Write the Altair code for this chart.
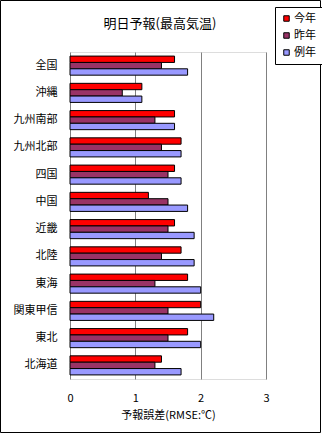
import altair as alt
import pandas as pd

regions = ["全国", "沖縄", "九州南部", "九州北部", "四国", "中国", "近畿", "北陸", "東海", "関東甲信", "東北", "北海道"]
series = ["今年", "昨年", "例年"]
this_year = [1.6, 1.1, 1.6, 1.7, 1.6, 1.2, 1.6, 1.7, 1.8, 2.0, 1.8, 1.4]
last_year = [1.4, 0.8, 1.3, 1.4, 1.5, 1.5, 1.5, 1.4, 1.3, 1.5, 1.5, 1.3]
normal = [1.8, 1.1, 1.6, 1.7, 1.7, 1.8, 1.9, 1.9, 2.0, 2.2, 2.0, 1.7]
colors = ["#FF0000", "#993366", "#9999FF"]
title_text = ["明日予報(最高気温)"]

rows = []
for name, vals in zip(series, [this_year, last_year, normal]):
    for r, v in zip(regions, vals):
        rows.append({"region": r, "series": name, "value": v})
df = pd.DataFrame(rows)

FONT = "Noto Sans CJK JP"

bars = alt.Chart(df).mark_bar(stroke="black", strokeWidth=1).encode(
    y=alt.Y("region:N", sort=regions,
            scale=alt.Scale(paddingInner=0.3, paddingOuter=0.15),
            axis=alt.Axis(title=None, ticks=False, domain=False, labelPadding=13,
                          labelFontSize=11, labelColor="black", labelFont=FONT)),
    yOffset=alt.YOffset("series:N", sort=series),
    x=alt.X("value:Q", scale=alt.Scale(domain=[0, 3], nice=False),
            axis=alt.Axis(values=[0, 1, 2, 3], title="予報誤差(RMSE:℃)", grid=True,
                          gridColor="#808080", gridWidth=1, ticks=False, domain=False,
                          labelPadding=13, labelFontSize=11, labelColor="black",
                          labelFont=FONT, titleFont=FONT, titleFontSize=11,
                          titleFontWeight="normal", titleColor="black", titlePadding=6,
                          labelFlush=False)),
    color=alt.Color("series:N", sort=series,
                    scale=alt.Scale(domain=series, range=colors),
                    legend=alt.Legend(title=None, orient="none", legendX=205, legendY=-45,
                                      symbolType="square", symbolSize=30,
                                      symbolStrokeColor="black", symbolStrokeWidth=1,
                                      labelFontSize=11, labelFont=FONT, labelColor="black",
                                      rowPadding=5, padding=6, strokeColor="black",
                                      fillColor="white", labelOffset=2)),
)

title = alt.Chart(pd.DataFrame({"t": title_text})).mark_text(
    font=FONT, fontSize=13, color="black", align="center", baseline="middle", clip=False
).encode(text="t:N", x=alt.value(90), y=alt.value(-28))

frame = alt.Chart(pd.DataFrame({"a": [0]})).mark_rect(
    filled=False, stroke="black", strokeWidth=1, clip=False
).encode(
    x=alt.value(-69.5), x2=alt.value(250.5), y=alt.value(-51.5), y2=alt.value(380.5)
)

chart = alt.layer(bars, title, frame).properties(
    width=196, height=327,
    padding={"left": 70, "top": 52, "right": 56, "bottom": 55},
    autosize="none",
).configure_view(
    fill="#FFFFCC", stroke="black", strokeWidth=1
).configure(background="white")

chart.save("out.html", embed_options={"renderer": "svg", "actions": False})
